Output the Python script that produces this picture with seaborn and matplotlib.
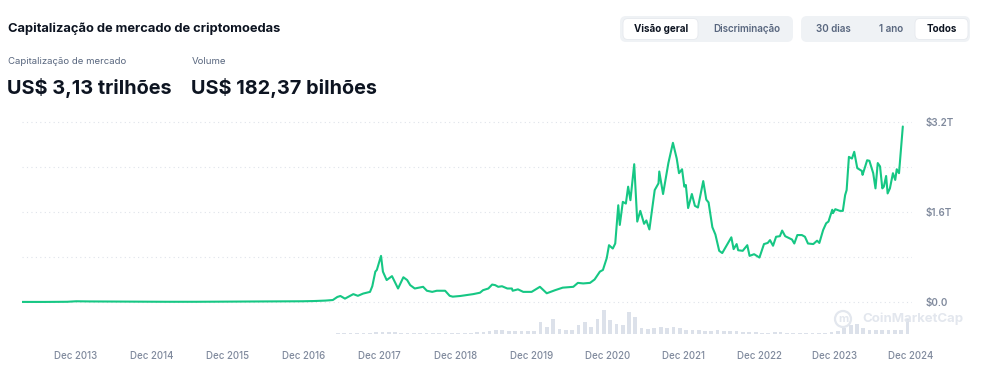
import numpy as np
import pandas as pd
import matplotlib
matplotlib.use("Agg")
import matplotlib.pyplot as plt
import matplotlib.dates as mdates
from matplotlib.patches import FancyBboxPatch, Circle
from matplotlib.transforms import IdentityTransform
import seaborn as sns

# ---------------- data ----------------
cap_years = [
    2013.20, 2013.50, 2013.80, 2013.92, 2014.10, 2014.40, 2014.90, 2015.10, 2015.50,
    2015.90, 2016.40, 2016.90, 2017.05, 2017.20, 2017.30, 2017.36, 2017.40, 2017.46,
    2017.57, 2017.63, 2017.70, 2017.79, 2017.82, 2017.86, 2017.88, 2017.935, 2017.96,
    2018.01, 2018.08, 2018.16, 2018.23, 2018.28, 2018.32, 2018.38, 2018.49, 2018.54,
    2018.61, 2018.67, 2018.78, 2018.84, 2018.88, 2018.98, 2019.15, 2019.24, 2019.28,
    2019.35, 2019.40, 2019.44, 2019.48, 2019.53, 2019.60, 2019.66, 2019.67, 2019.74,
    2019.81, 2019.92, 2020.03, 2020.12, 2020.23, 2020.33, 2020.47, 2020.53, 2020.60,
    2020.69, 2020.75, 2020.82, 2020.86, 2020.91, 2020.94, 2020.99, 2021.02, 2021.06,
    2021.08, 2021.12, 2021.16, 2021.19, 2021.22, 2021.27, 2021.31, 2021.35, 2021.40,
    2021.43, 2021.47, 2021.54, 2021.59, 2021.60, 2021.65, 2021.72, 2021.78, 2021.83,
    2021.86, 2021.90, 2021.93, 2021.95, 2021.98, 2022.03, 2022.07, 2022.11, 2022.18,
    2022.22, 2022.25, 2022.30, 2022.34, 2022.39, 2022.43, 2022.49, 2022.55, 2022.58,
    2022.62, 2022.64, 2022.70, 2022.76, 2022.79, 2022.85, 2022.92, 2022.98, 2023.03,
    2023.06, 2023.10, 2023.14, 2023.19, 2023.22, 2023.26, 2023.35, 2023.38, 2023.42,
    2023.48, 2023.52, 2023.56, 2023.63, 2023.68, 2023.71, 2023.76, 2023.80, 2023.83,
    2023.88, 2023.89, 2023.92, 2023.98, 2024.02, 2024.05, 2024.07, 2024.10, 2024.14,
    2024.17, 2024.21, 2024.27, 2024.28, 2024.34, 2024.37, 2024.42, 2024.45, 2024.48,
    2024.51, 2024.54, 2024.56, 2024.59, 2024.61, 2024.64, 2024.68, 2024.71, 2024.73,
    2024.76, 2024.81,
]
cap_trillions = [
    0.0015, 0.0012, 0.004, 0.013, 0.010, 0.008, 0.005, 0.004, 0.004,
    0.006, 0.010, 0.013, 0.017, 0.025, 0.035, 0.09, 0.107, 0.06,
    0.14, 0.11, 0.15, 0.18, 0.28, 0.54, 0.57, 0.82, 0.54,
    0.39, 0.46, 0.24, 0.44, 0.39, 0.30, 0.24, 0.27, 0.20,
    0.18, 0.20, 0.20, 0.11, 0.095, 0.107, 0.14, 0.165, 0.21,
    0.24, 0.31, 0.30, 0.27, 0.28, 0.24, 0.24, 0.20, 0.225,
    0.18, 0.18, 0.27, 0.155, 0.21, 0.255, 0.27, 0.34, 0.33,
    0.34, 0.40, 0.54, 0.57, 0.78, 1.01, 0.95, 1.04, 1.72,
    1.37, 1.78, 1.75, 2.05, 1.81, 2.45, 1.43, 1.62, 1.39,
    1.45, 1.29, 1.99, 2.11, 2.32, 1.92, 2.47, 2.83, 2.55,
    2.29, 2.36, 2.05, 2.08, 1.67, 1.92, 1.71, 1.68, 2.15,
    1.82, 1.77, 1.33, 1.20, 0.91, 0.87, 1.01, 1.15, 0.94,
    1.03, 0.92, 0.91, 1.01, 0.82, 0.85, 0.79, 1.03, 1.05,
    1.10, 1.00, 1.16, 1.17, 1.27, 1.17, 1.11, 1.04, 1.19,
    1.19, 1.16, 1.04, 1.03, 1.09, 1.05, 1.28, 1.40, 1.43,
    1.64, 1.58, 1.65, 1.62, 1.62, 1.90, 1.99, 2.58, 2.55,
    2.67, 2.38, 2.33, 2.26, 2.52, 2.51, 2.29, 2.02, 2.47,
    2.41, 2.02, 2.05, 2.24, 1.93, 2.02, 2.29, 2.17, 2.36,
    2.29, 3.12,
]
vol_first_month = "2017-01-01"
vol_billions = [
    4, 4, 5, 6, 10, 12, 10, 12, 14, 14, 19, 26,              # 2017
    24, 19, 17, 14, 14, 12, 12, 12, 12, 12, 12, 12,          # 2018
    14, 18, 22, 30, 42, 48, 48, 42, 36, 36, 36, 36,          # 2019
    144, 84, 180, 60, 48, 48, 108, 144, 84, 180, 288, 168,   # 2020
    120, 108, 264, 204, 72, 60, 72, 84, 72, 84, 72, 48,      # 2021
    48, 48, 42, 42, 48, 36, 36, 36, 24, 24, 30, 18,          # 2022
    18, 24, 24, 18, 14, 14, 14, 12, 12, 18, 30, 36,          # 2023
    72, 108, 120, 72, 48, 48, 48, 54, 48, 48, 182,           # 2024
]
tick_years = list(range(2013, 2025))
tick_labels = [f"Dec {y}" for y in tick_years]
ytick_values = [0.0, 1.6, 3.2]
ytick_labels = ["$0.0", "$1.6T", "$3.2T"]
grid_values = [0.0, 0.8, 1.6, 2.4, 3.2]

title = "Capitalização de mercado de criptomoedas"
stat_labels = ["Capitalização de mercado", "Volume"]
stat_values = ["US$ 3,13 trilhões", "US$ 182,37 bilhões"]
buttons_left = ["Visão geral", "Discriminação"]
buttons_right = ["30 dias", "1 ano", "Todos"]


def dec_to_date(y):
    base = pd.Timestamp(year=int(y), month=1, day=1)
    return base + pd.Timedelta(days=(y - int(y)) * 365.25)


df = pd.DataFrame({"date": [dec_to_date(y) for y in cap_years],
                   "cap": cap_trillions})
vol_dates = pd.date_range(vol_first_month, periods=len(vol_billions), freq="MS") + pd.Timedelta(days=14)

# ---------------- figure ----------------
sns.set_theme(style="white")
plt.rcParams["font.family"] = ["Inter", "DejaVu Sans"]

W, H = 986, 382
fig = plt.figure(figsize=(W / 100, H / 100), dpi=100)


def fx(x):
    return x / W


def fy(y):
    return 1 - y / H


GREEN = "#16c784"
DARK = "#0d1421"
GRAY = "#58667e"
TICKGRAY = "#808a9d"

left_px, right_px = 22, 912
xmin = dec_to_date(2013.206)
xmax = dec_to_date(2024.931)

# main axis: 0 at y=302, 3.2T at y=122 (56.25 px per T)
top_px, bot_px = 110, 310
ppt = 56.25
ax = fig.add_axes([fx(left_px), fy(bot_px), (right_px - left_px) / W, (bot_px - top_px) / H])
ax.set_ylim(-(bot_px - 302) / ppt, 3.2 + (122 - top_px) / ppt)
for g in grid_values:
    ax.axhline(g, color="#dfe3ea", lw=0.8, ls=(0, (1, 3)), zorder=0)
sns.lineplot(data=df, x="date", y="cap", ax=ax, color=GREEN, lw=1.5, zorder=3)
ax.set_xlim(xmin, xmax)
ax.set_xlabel("")
ax.set_ylabel("")
ax.set_xticks([])
ax.yaxis.tick_right()
ax.set_yticks(ytick_values)
ax.set_yticklabels(ytick_labels)
ax.tick_params(axis="y", length=0, pad=9.5, labelsize=7.1, labelcolor=TICKGRAY)
for t in ax.get_yticklabels():
    t.set_fontweight("semibold")
for s in ax.spines.values():
    s.set_visible(False)
ax.patch.set_alpha(0)

# volume axis
vax = fig.add_axes([fx(left_px), fy(334), (right_px - left_px) / W, 30 / H])
vax.bar(vol_dates, vol_billions, width=18, color="#dce1ea", linewidth=0)
vax.set_ylim(0, 360)
vax.set_xlim(xmin, xmax)
vax.set_yticks([])
vax.set_xticks([pd.Timestamp(year=y, month=12, day=1) for y in tick_years])
vax.set_xticklabels(tick_labels)
vax.tick_params(axis="x", length=0, pad=12, labelsize=7.0, labelcolor=TICKGRAY)
for t in vax.get_xticklabels():
    t.set_fontweight("medium")
for s in vax.spines.values():
    s.set_visible(False)
vax.patch.set_alpha(0)

# watermark
fig.text(fx(862), fy(319), "CoinMarketCap", color="#e3e7ee", fontsize=9.5,
         fontweight="bold", va="center", ha="left")
fig.add_artist(Circle((843, H - 319), 8, transform=IdentityTransform(),
                      fill=False, ec="#e3e7ee", lw=1.6))
fig.text(fx(843), fy(319.5), "m", color="#e3e7ee", fontsize=8, fontweight="bold",
         ha="center", va="center")

# header texts
fig.text(fx(8), fy(28.5), title, color=DARK, fontsize=9.3, fontweight="bold", va="center")
fig.text(fx(8), fy(61), stat_labels[0], color=GRAY, fontsize=6.9, va="center")
fig.text(fx(192), fy(61), stat_labels[1], color=GRAY, fontsize=6.9, va="center")
fig.text(fx(7), fy(87.5), stat_values[0], color=DARK, fontsize=14.3, fontweight="bold", va="center")
fig.text(fx(191), fy(87.5), stat_values[1], color=DARK, fontsize=14.3, fontweight="bold", va="center")


def rbox(x0, y0, x1, y1, color, r=5, shadow=False):
    p = FancyBboxPatch((x0 + r, H - y1 + r), (x1 - x0) - 2 * r, (y1 - y0) - 2 * r,
                       boxstyle=f"round,pad={r}", transform=IdentityTransform(),
                       fc=color, ec="#e6e9ee" if shadow else "none", lw=0.6 if shadow else 0)
    fig.add_artist(p)


rbox(620, 16, 793, 42, "#eff2f5", r=6)
rbox(623, 18.5, 698, 39.5, "white", r=5, shadow=True)
rbox(801, 16, 970, 42, "#eff2f5", r=6)
rbox(915, 18.5, 968, 39.5, "white", r=5, shadow=True)

bfs = 7.1
fig.text(fx(661), fy(29), buttons_left[0], color=DARK, fontsize=bfs, fontweight="bold",
         ha="center", va="center")
fig.text(fx(746.5), fy(29), buttons_left[1], color=GRAY, fontsize=bfs, fontweight="semibold",
         ha="center", va="center")
fig.text(fx(833), fy(29), buttons_right[0], color=GRAY, fontsize=bfs, fontweight="semibold",
         ha="center", va="center")
fig.text(fx(891.5), fy(29), buttons_right[1], color=GRAY, fontsize=bfs, fontweight="semibold",
         ha="center", va="center")
fig.text(fx(942), fy(29), buttons_right[2], color=DARK, fontsize=bfs, fontweight="bold",
         ha="center", va="center")

fig.savefig("out.png", dpi=100, facecolor="white")
